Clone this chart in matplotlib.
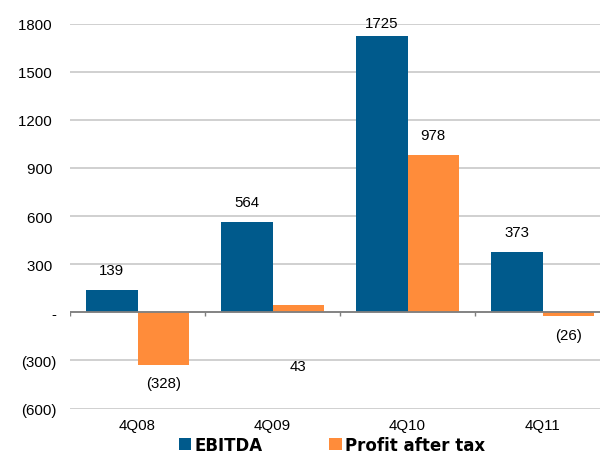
import matplotlib
matplotlib.use("Agg")
import matplotlib.pyplot as plt
import numpy as np

# Quarterly figures
quarters = ["4Q08", "4Q09", "4Q10", "4Q11"]
ebitda = [139, 564, 1725, 373]
profit_after_tax = [-328, 43, 978, -26]
y_ticks = [-600, -300, 0, 300, 600, 900, 1200, 1500, 1800]

BLUE = "#005A8C"
ORANGE = "#FF8C3A"

plt.rcParams["font.family"] = ["Liberation Sans", "DejaVu Sans"]
FS = 10.8

fig = plt.figure(figsize=(6.0, 4.6), dpi=100)
ax = fig.add_axes([0.1167, 0.1096, 0.8833, 0.8371])

x = np.arange(len(quarters))
w = 0.38
ax.bar(x - w / 2, ebitda, width=w, color=BLUE, zorder=3, label="EBITDA")
ax.bar(x + w / 2, profit_after_tax, width=w, color=ORANGE, zorder=3,
       label="Profit after tax")

ax.set_xlim(-0.5, 3.425)
ax.set_ylim(-600, 1800)


def fmt(v):
    if v == 0:
        return "-"
    if v < 0:
        return f"({abs(v):.0f})"
    return f"{v:.0f} "


ax.set_yticks(y_ticks)
ax.set_yticklabels([fmt(v) for v in y_ticks])
ax.grid(axis="y", color="#D0D0D0", linewidth=1.4, zorder=0)
ax.set_axisbelow(True)
ax.tick_params(axis="y", length=0, pad=10, labelsize=FS, colors="#000000")
ax.set_xticks(x)
ax.set_xticklabels(quarters)
ax.tick_params(axis="x", length=0, pad=7, labelsize=FS)
for s in ax.spines.values():
    s.set_visible(False)

# zero line with category separators
ax.axhline(0, color="#7F7F7F", linewidth=1.3, zorder=4)
for b in np.arange(len(quarters)) - 0.5:
    ax.plot([b, b], [0, -25], color="#7F7F7F", linewidth=1.0, zorder=4,
            solid_capstyle="butt")

# value labels
def label(xpos, v, dy):
    ax.annotate(fmt(v).strip(), (xpos, v), xytext=(0, dy), textcoords="offset points",
                ha="center", va="center", fontsize=FS, zorder=5)


for i, v in enumerate(ebitda):
    off = 9 if v > 1700 else 14.5
    label(x[i] - w / 2, v, off)
for i, v in enumerate(profit_after_tax):
    if 0 < v < 100:
        ax.text(x[i] + w / 2, -335, fmt(v).strip(), ha="center", va="center",
                fontsize=FS, zorder=5)
    else:
        label(x[i] + w / 2, v, 14.5 if v > 0 else -13)

fig.legend(loc="center left", bbox_to_anchor=(0.298, 1 - 446 / 460), ncol=2,
           frameon=False, borderpad=0, borderaxespad=0, handlelength=0.75,
           handleheight=0.75, handletextpad=0.2, columnspacing=4.0,
           prop={"family": "DejaVu Sans", "weight": "bold", "size": 12})

fig.savefig("out.png", dpi=100)
